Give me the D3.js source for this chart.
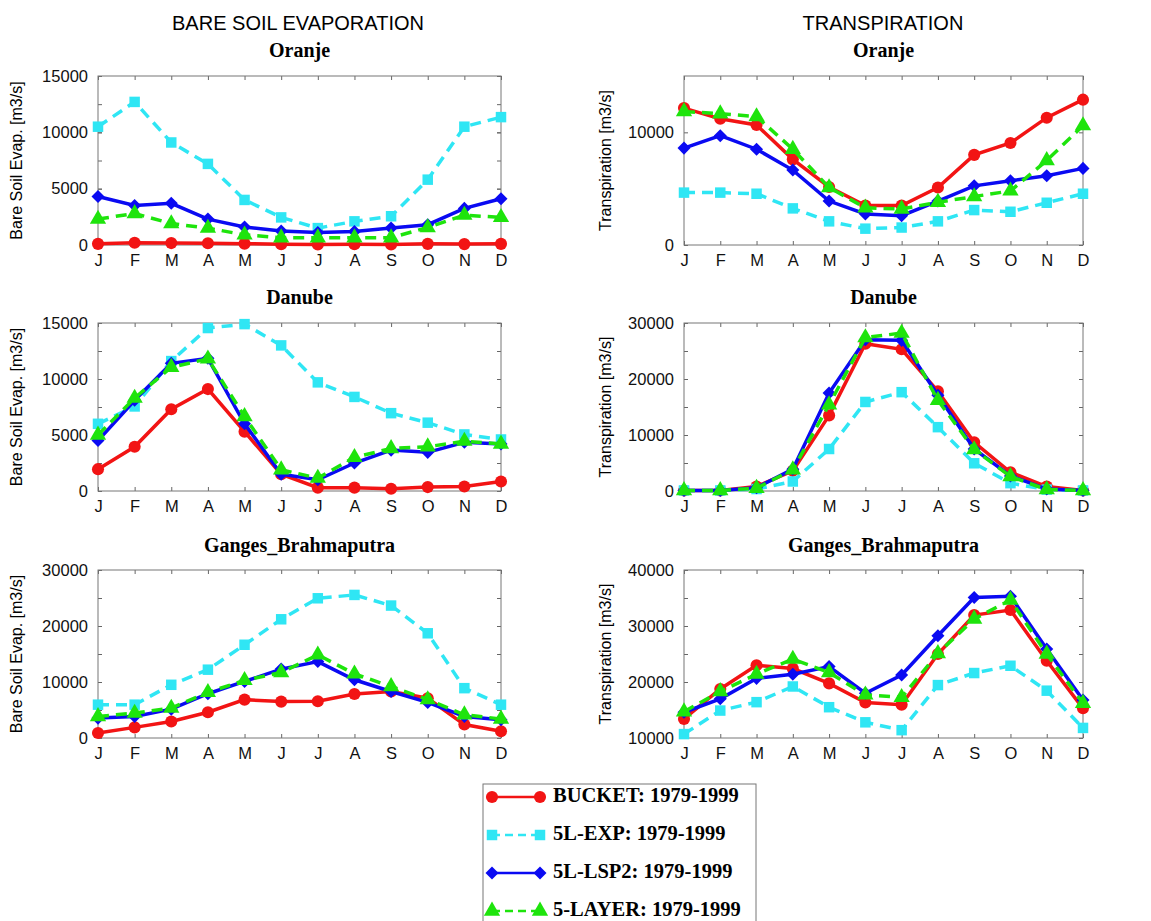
<!DOCTYPE html>
<html>
<head>
<meta charset="utf-8">
<script src="https://cdn.jsdelivr.net/npm/d3@7"></script>
<style>
	body { margin: 0; background: #fff; }
	svg { display: block; }
</style>
</head>
<body>
<div id="chart"></div>
<script>
const months = ['J', 'F', 'M', 'A', 'M', 'J', 'J', 'A', 'S', 'O', 'N', 'D'];
const seriesNames = ['BUCKET: 1979-1999', '5L-EXP: 1979-1999', '5L-LSP2: 1979-1999', '5-LAYER: 1979-1999'];

// Oranje - bare soil evaporation
const oranjeBseBucket = [100, 200, 170, 150, 120, 60, 50, 60, 50, 100, 80, 100];
const oranjeBseExp = [10500, 12700, 9100, 7200, 4000, 2450, 1500, 2100, 2550, 5800, 10500, 11350];
const oranjeBseLsp2 = [4300, 3500, 3700, 2300, 1600, 1250, 1100, 1200, 1500, 1800, 3250, 4100];
const oranjeBseLayer = [2300, 2800, 1900, 1500, 900, 650, 650, 650, 650, 1550, 2650, 2450];

// Oranje - transpiration
const oranjeTrBucket = [12150, 11200, 10650, 7600, 5150, 3500, 3500, 5100, 8000, 9050, 11300, 12900];
const oranjeTrExp = [4650, 4650, 4550, 3250, 2100, 1450, 1550, 2100, 3100, 2950, 3750, 4550];
const oranjeTrLsp2 = [8600, 9700, 8500, 6650, 3900, 2750, 2600, 3900, 5250, 5700, 6150, 6800];
const oranjeTrLayer = [11850, 11650, 11400, 8500, 5100, 3300, 3200, 3800, 4300, 4800, 7500, 10600];

// Danube - bare soil evaporation
const danubeBseBucket = [1950, 3950, 7300, 9100, 5300, 1500, 300, 300, 200, 350, 400, 850];
const danubeBseExp = [6000, 7550, 11600, 14550, 14900, 13000, 9700, 8400, 6950, 6100, 5050, 4600];
const danubeBseLsp2 = [4500, 8100, 11400, 11850, 6000, 1500, 1000, 2500, 3650, 3450, 4350, 4200];
const danubeBseLayer = [5000, 8300, 11050, 11800, 6650, 1900, 1150, 3000, 3800, 3950, 4450, 4200];

// Danube - transpiration
const danubeTrBucket = [100, 100, 800, 3600, 13500, 26300, 25300, 17800, 8700, 3350, 800, 100];
const danubeTrExp = [100, 100, 350, 1700, 7500, 15900, 17650, 11400, 4950, 1400, 250, 100];
const danubeTrLsp2 = [100, 100, 600, 3900, 17500, 27000, 26900, 17100, 7500, 2700, 350, 100];
const danubeTrLayer = [100, 100, 500, 3800, 15400, 27400, 28200, 16200, 7400, 2600, 250, 100];

// Ganges_Brahmaputra - bare soil evaporation
const gangesBseBucket = [900, 1900, 2950, 4600, 6850, 6500, 6550, 7850, 8300, 7100, 2400, 1200];
const gangesBseExp = [5950, 5950, 9500, 12200, 16650, 21200, 24950, 25550, 23650, 18700, 8900, 5950];
const gangesBseLsp2 = [3550, 3850, 5150, 7900, 10100, 12300, 13650, 10400, 8300, 6350, 3850, 3250];
const gangesBseLayer = [3850, 4450, 5350, 8150, 10300, 11700, 14850, 11450, 9200, 6850, 4150, 3400];

// Ganges_Brahmaputra - transpiration
const gangesTrBucket = [13400, 18750, 23000, 22400, 19750, 16350, 15950, 25000, 31950, 32850, 23800, 15300];
const gangesTrExp = [10700, 14900, 16400, 19200, 15500, 12800, 11400, 19450, 21600, 22900, 18450, 11800];
const gangesTrLsp2 = [14600, 17000, 20650, 21400, 22750, 18000, 21250, 28250, 35100, 35300, 25900, 16800];
const gangesTrLayer = [14700, 18300, 21400, 24100, 21700, 17700, 17250, 25100, 31250, 34650, 25000, 16200];

// y tick labels per panel
const ticksBse15 = [0, 5000, 10000, 15000];
const ticksTrOranje = [0, 10000];
const ticks30 = [0, 10000, 20000, 30000];
const ticks40 = [10000, 20000, 30000, 40000];

const width = 1151;
const height = 921;
const colors = ['#f21414', '#2fe6f4', '#0a0af2', '#1ee40c'];
const dashed = [false, true, false, true];
const markers = [d3.symbolCircle, d3.symbolSquare, d3.symbolSquare, d3.symbolTriangle];
const markerSizes = [115, 110, 85, 115];
const markerRotate = [0, 0, 45, 0];

const svg = d3.select('#chart')
	.append('svg')
	.attr('width', width)
	.attr('height', height);

const colX = [{ left: 98, right: 501, labelOff: 80 }, { left: 684, right: 1083, labelOff: 77 }];
const rowY = [{ top: 76, bottom: 245 }, { top: 323, bottom: 491 }, { top: 570, bottom: 738 }];

const panels = [
	{ col: 0, row: 0, title: 'Oranje', ylabel: 'Bare Soil Evap. [m3/s]', domain: [0, 15000], ticks: ticksBse15, minor: 2500,
		data: [oranjeBseBucket, oranjeBseExp, oranjeBseLsp2, oranjeBseLayer] },
	{ col: 1, row: 0, title: 'Oranje', ylabel: 'Transpiration [m3/s]', domain: [0, 15000], ticks: ticksTrOranje, minor: null,
		data: [oranjeTrBucket, oranjeTrExp, oranjeTrLsp2, oranjeTrLayer] },
	{ col: 0, row: 1, title: 'Danube', ylabel: 'Bare Soil Evap. [m3/s]', domain: [0, 15000], ticks: ticksBse15, minor: 2500,
		data: [danubeBseBucket, danubeBseExp, danubeBseLsp2, danubeBseLayer] },
	{ col: 1, row: 1, title: 'Danube', ylabel: 'Transpiration [m3/s]', domain: [0, 30000], ticks: ticks30, minor: 5000,
		data: [danubeTrBucket, danubeTrExp, danubeTrLsp2, danubeTrLayer] },
	{ col: 0, row: 2, title: 'Ganges_Brahmaputra', ylabel: 'Bare Soil Evap. [m3/s]', domain: [0, 30000], ticks: ticks30, minor: 5000,
		data: [gangesBseBucket, gangesBseExp, gangesBseLsp2, gangesBseLayer] },
	{ col: 1, row: 2, title: 'Ganges_Brahmaputra', ylabel: 'Transpiration [m3/s]', domain: [10000, 40000], ticks: ticks40, minor: 5000,
		data: [gangesTrBucket, gangesTrExp, gangesTrLsp2, gangesTrLayer] }
];

const markerPath = s => d3.symbol().type(markers[s]).size(markerSizes[s])();

// column headers
svg.append('text')
	.attr('x', 298).attr('y', 30)
	.attr('text-anchor', 'middle')
	.style('font-family', 'Liberation Sans, Arial, sans-serif')
	.style('font-size', '20px')
	.text('BARE SOIL EVAPORATION');

svg.append('text')
	.attr('x', 883).attr('y', 30)
	.attr('text-anchor', 'middle')
	.style('font-family', 'Liberation Sans, Arial, sans-serif')
	.style('font-size', '20px')
	.text('TRANSPIRATION');

const titleY = [57, 304, 552];

panels.forEach(p => {
	const cx = colX[p.col];
	const ry = rowY[p.row];

	const x = d3.scaleLinear().domain([0, 11]).range([cx.left, cx.right]);
	const y = d3.scaleLinear().domain(p.domain).range([ry.bottom, ry.top]);

	const g = svg.append('g');

	// panel title
	g.append('text')
		.attr('x', (cx.left + cx.right) / 2)
		.attr('y', titleY[p.row])
		.attr('text-anchor', 'middle')
		.style('font-family', 'Liberation Serif, Times New Roman, serif')
		.style('font-weight', 'bold')
		.style('font-size', '20px')
		.text(p.title);

	// y label
	g.append('text')
		.attr('transform', `translate(${cx.left - cx.labelOff},${(ry.top + ry.bottom) / 2}) rotate(-90)`)
		.attr('text-anchor', 'middle')
		.attr('dominant-baseline', 'middle')
		.style('font-family', 'Liberation Sans, Arial, sans-serif')
		.style('font-size', '16px')
		.text(p.ylabel);

	// minor y ticks
	if (p.minor) {
		const minorVals = d3.range(p.domain[0], p.domain[1] + 1, p.minor);
		g.append('g')
			.attr('transform', `translate(${cx.left},0)`)
			.call(d3.axisLeft(y).tickValues(minorVals).tickFormat('').tickSize(-4))
			.call(a => a.select('.domain').remove());
		g.append('g')
			.attr('transform', `translate(${cx.right},0)`)
			.call(d3.axisRight(y).tickValues(minorVals).tickFormat('').tickSize(-4))
			.call(a => a.select('.domain').remove());
	}

	// labelled y ticks
	g.append('g')
		.attr('transform', `translate(${cx.left},0)`)
		.call(d3.axisLeft(y).tickValues(p.ticks).tickFormat(d3.format('d')).tickSize(-4).tickPadding(10))
		.call(a => a.select('.domain').remove());
	g.append('g')
		.attr('transform', `translate(${cx.right},0)`)
		.call(d3.axisRight(y).tickValues(p.ticks).tickFormat('').tickSize(-4))
		.call(a => a.select('.domain').remove());

	// month ticks
	g.append('g')
		.attr('transform', `translate(0,${ry.bottom})`)
		.call(d3.axisBottom(x).tickValues(d3.range(12)).tickFormat(i => months[i]).tickSize(-4).tickPadding(9))
		.call(a => a.select('.domain').remove());
	g.append('g')
		.attr('transform', `translate(0,${ry.top})`)
		.call(d3.axisTop(x).tickValues(d3.range(12)).tickFormat('').tickSize(-4))
		.call(a => a.select('.domain').remove());

	g.selectAll('.tick line').attr('stroke', '#666');
	g.selectAll('.tick text')
		.attr('fill', '#111')
		.style('font-family', 'Liberation Sans, Arial, sans-serif')
		.style('font-size', '16.5px');

	// frame
	g.append('rect')
		.attr('x', cx.left).attr('y', ry.top)
		.attr('width', cx.right - cx.left)
		.attr('height', ry.bottom - ry.top)
		.attr('fill', 'none')
		.attr('stroke', '#777')
		.attr('stroke-width', 1);

	const line = d3.line()
		.x((d, i) => x(i))
		.y(d => y(d));

	p.data.forEach((values, s) => {
		g.append('path')
			.datum(values)
			.attr('d', line)
			.attr('fill', 'none')
			.attr('stroke', colors[s])
			.attr('stroke-width', 3.5)
			.attr('stroke-dasharray', dashed[s] ? '11,7' : null);

		g.selectAll(null)
			.data(values)
			.enter()
			.append('path')
			.attr('transform', (d, i) => `translate(${x(i)},${y(d)}) rotate(${markerRotate[s]})`)
			.attr('d', markerPath(s))
			.attr('fill', colors[s]);
	});
});

// legend
const legend = svg.append('g');
legend.append('rect')
	.attr('x', 483).attr('y', 784)
	.attr('width', 273).attr('height', 150)
	.attr('fill', '#fff')
	.attr('stroke', '#777')
	.attr('stroke-width', 1);

seriesNames.forEach((name, s) => {
	const ly = 797 + s * 38;
	legend.append('line')
		.attr('x1', 492).attr('x2', 540)
		.attr('y1', ly).attr('y2', ly)
		.attr('stroke', colors[s])
		.attr('stroke-width', 2.5)
		.attr('stroke-dasharray', dashed[s] ? '8,5' : null);
	[492, 540].forEach(lx => {
		legend.append('path')
			.attr('transform', `translate(${lx},${ly}) rotate(${markerRotate[s]})`)
			.attr('d', markerPath(s))
			.attr('fill', colors[s]);
	});
	legend.append('text')
		.attr('x', 553).attr('y', ly)
		.attr('dominant-baseline', 'middle')
		.style('font-family', 'Liberation Serif, Times New Roman, serif')
		.style('font-weight', 'bold')
		.style('font-size', '20.5px')
		.text(name);
});
</script>
</body>
</html>
